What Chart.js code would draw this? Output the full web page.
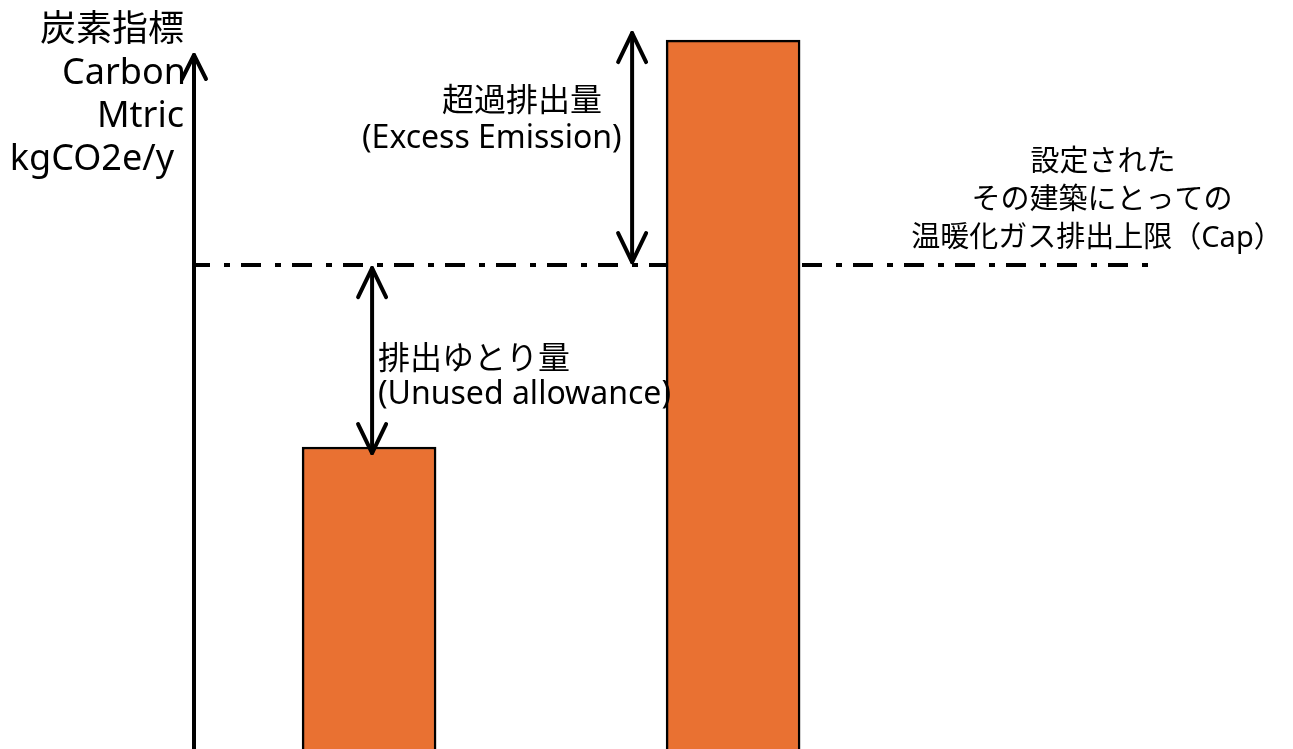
<!DOCTYPE html>
<html>
<head>
<meta charset="utf-8">
<script src="https://cdn.jsdelivr.net/npm/chart.js"></script>
<style>
  body { margin: 0; background: #fff; }
  #wrap { width: 1293px; height: 749px; }
</style>
</head>
<body>
<div id="wrap"><canvas id="myChart"></canvas></div>
<script>
// values (y scale 0..100, no ticks shown)
var buildings = ["建築A", "建築B"];
var emissions = [42.0, 98.6];
var capValue = 67.3;

var barColor = "#E97132";
var font = '"Noto Sans", "Noto Sans CJK JP", sans-serif';

// x range chosen so the bars sit where they sit in the picture
var xMin = 0.519, xMax = 3.159;

function arrowHead(ctx, x, y, dir, dx, dy) {
  // dir = 1 points up, -1 points down
  ctx.beginPath();
  ctx.moveTo(x - dx, y + dir * dy);
  ctx.lineTo(x, y);
  ctx.lineTo(x + dx, y + dir * dy);
  ctx.stroke();
}

function doubleArrow(ctx, x, yTop, yBottom) {
  ctx.beginPath();
  ctx.moveTo(x, yTop);
  ctx.lineTo(x, yBottom);
  ctx.stroke();
  arrowHead(ctx, x, yTop, 1, 14, 29);
  arrowHead(ctx, x, yBottom, -1, 14, 29);
}

function text(ctx, s, x, y, size, align) {
  ctx.font = size + "px " + font;
  ctx.textAlign = align || "left";
  ctx.fillText(s, x, y);
}

var extras = {
  id: "extras",
  afterDatasetsDraw: function(chart) {
    var ctx = chart.ctx;
    var area = chart.chartArea;
    var y = chart.scales.y;
    var bars = chart.getDatasetMeta(0).data;
    var capY = y.getPixelForValue(capValue);

    ctx.save();
    ctx.strokeStyle = "#000";
    ctx.fillStyle = "#000";
    ctx.lineCap = "round";
    ctx.lineJoin = "round";

    // y axis with arrow
    ctx.lineWidth = 4;
    ctx.beginPath();
    ctx.moveTo(area.left, area.bottom + 5);
    ctx.lineTo(area.left, area.top + 25);
    ctx.stroke();
    arrowHead(ctx, area.left, area.top + 25, 1, 12, 24);

    // unused allowance arrow
    doubleArrow(ctx, bars[0].x + 3, capY + 3, bars[0].y + 6);
    // excess emission arrow
    doubleArrow(ctx, bars[1].x - bars[1].width / 2 - 34, bars[1].y - 7, capY - 3);

    ctx.textBaseline = "alphabetic";
    // axis title
    text(ctx, "炭素指標", 184, 41, 36, "right");
    text(ctx, "Carbon", 186, 84, 36, "right");
    text(ctx, "Mtric", 184, 127, 36, "right");
    text(ctx, "kgCO2e/y", 174, 170, 36, "right");

    text(ctx, "超過排出量", 442, 111, 32);
    text(ctx, "(Excess Emission)", 362, 148, 32);

    text(ctx, "排出ゆとり量", 378, 369, 32);
    text(ctx, "(Unused allowance)", 378, 404, 32);

    text(ctx, "設定された", 1103, 171, 29, "center");
    text(ctx, "その建築にとっての", 1102, 209, 29, "center");
    text(ctx, "温暖化ガス排出上限（Cap）", 1097, 247, 29, "center");
    ctx.restore();
  }
};

new Chart("myChart", {
  type: "bar",
  data: {
    labels: buildings,
    datasets: [{
      type: "bar",
      order: 0,
      data: buildings.map(function(b, i) { return { x: i + 1, y: emissions[i] }; }),
      backgroundColor: barColor,
      borderColor: "#000",
      borderWidth: 2.5,
      barThickness: 134
    }, {
      type: "line",
      order: 1,
      data: [{ x: xMin, y: capValue }, { x: xMax, y: capValue }],
      borderColor: "#000",
      borderWidth: 4,
      borderDash: [20, 14, 6, 11],
      borderDashOffset: 4,
      pointRadius: 0,
      fill: false
    }]
  },
  options: {
    responsive: true,
    maintainAspectRatio: false,
    animation: false,
    layout: { padding: { left: 194, right: 138, top: 30, bottom: 0 } },
    plugins: {
      legend: { display: false },
      tooltip: { enabled: false },
      title: { display: false }
    },
    scales: {
      x: { type: "linear", min: xMin, max: xMax, offset: false, display: false },
      y: { min: 0, max: 100, display: false }
    }
  },
  plugins: [extras]
});
</script>
</body>
</html>
